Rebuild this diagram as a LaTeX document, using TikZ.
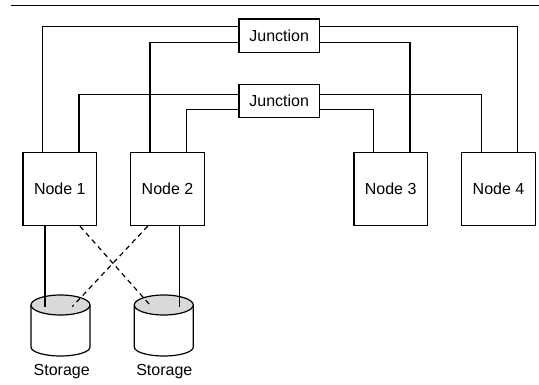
\documentclass[tikz,border=0pt]{standalone}
\usepackage{fontspec}
\setmainfont{Liberation Sans}
\definecolor{diskgray}{HTML}{D9D9D9}
\begin{document}
\begin{tikzpicture}[x=1pt,y=1pt,line width=1.2pt,
  box/.style={draw,minimum width=73.5pt,minimum height=73pt,inner sep=0pt,font=\fontsize{16}{18}\selectfont},
  jbox/.style={draw,minimum width=80.3pt,minimum height=33.3pt,inner sep=0pt,font=\fontsize{16}{18}\selectfont},
  lbl/.style={inner sep=0pt,font=\fontsize{16}{18}\selectfont},
  link/.style={dash pattern=on 5pt off 4pt}]
\useasboundingbox (0,0) rectangle (539,384);
% top rule
\draw[line width=1.7pt] (11,378.5) -- (539,378.5);
% nodes
\node[box] (n1) at (59.8,194.9) {Node 1};
\node[box] (n2) at (167.5,194.9) {Node 2};
\node[box] (n3) at (390.7,194.9) {Node 3};
\node[box] (n4) at (498.5,194.9) {Node 4};
\node[jbox] (j1) at (279.2,348.3) {Junction};
\node[jbox] (j2) at (279.2,283) {Junction};
% junction links
\draw ([yshift=9pt]j1.west) -| ([xshift=-17.5pt]n1.north);
\draw ([yshift=-6.6pt]j1.west) -| ([xshift=-17.5pt]n2.north);
\draw ([yshift=9pt]j1.east) -| ([xshift=19.3pt]n4.north);
\draw ([yshift=-6.6pt]j1.east) -| ([xshift=19.3pt]n3.north);
\draw ([yshift=6.7pt]j2.west) -| ([xshift=19.2pt]n1.north);
\draw ([yshift=-8.3pt]j2.west) -| ([xshift=19.2pt]n2.north);
\draw ([yshift=6.7pt]j2.east) -| ([xshift=-17pt]n4.north);
\draw ([yshift=-8.3pt]j2.east) -| ([xshift=-17.4pt]n3.north);
% storage cylinders
\foreach \cx in {60.5,163.8}{
  \fill[white] (\cx-29.5,79) -- (\cx-29.5,37) arc[start angle=180,end angle=360,x radius=29.5,y radius=9] -- (\cx+29.5,79) -- cycle;
  \draw (\cx-29.5,79) -- (\cx-29.5,37) arc[start angle=180,end angle=360,x radius=29.5,y radius=9] -- (\cx+29.5,79);
  \draw[fill=diskgray] (\cx,79) ellipse[x radius=29.5,y radius=10];
}
\coordinate (s1a) at (45,77.3);
\coordinate (s1b) at (72.2,77.3);
\coordinate (s2a) at (179.8,77.3);
\coordinate (s2b) at (151.5,77.3);
\node[lbl] (l1) at (61.7,12) {Storage};
\node[lbl] (l2) at (164.3,12) {Storage};
% storage links
\draw ([xshift=-14.8pt]n1.south) -- (s1a);
\draw ([xshift=12.3pt]n2.south) -- (s2a);
\draw[link] ([xshift=20.2pt]n1.south) -- (s2b);
\draw[link] ([xshift=-19.8pt]n2.south) -- (s1b);
\end{tikzpicture}
\end{document}
